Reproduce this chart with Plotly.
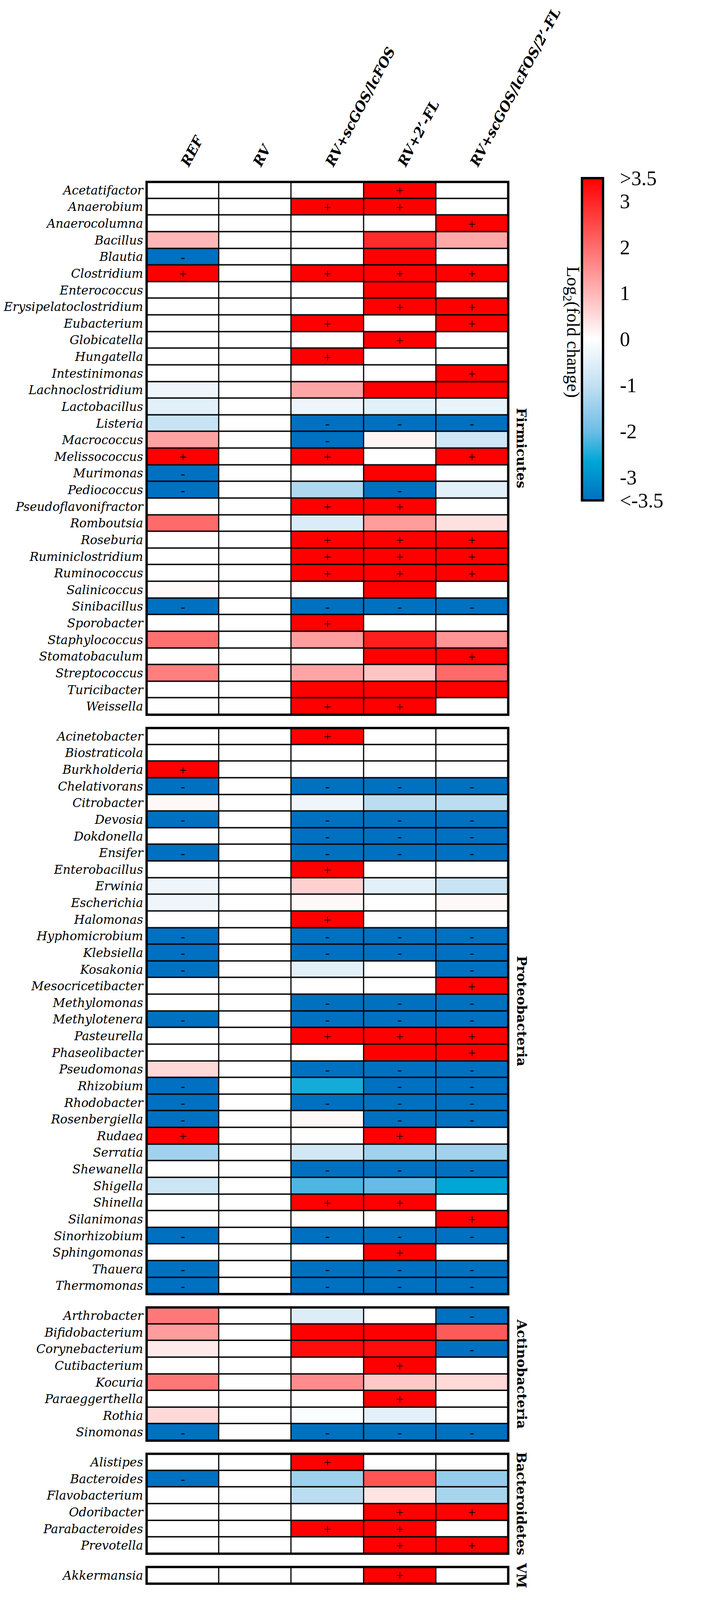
import plotly.graph_objects as go
from plotly.subplots import make_subplots

columns = ["REF", "RV", "RV+scGOS/lcFOS", "RV+2’-FL", "RV+scGOS/lcFOS/2’-FL"]
groups = ["Firmicutes", "Proteobacteria", "Actinobacteria", "Bacteroidetes", "VM"]

# log2 fold change per genus (columns as above), '.' = no significance mark
firmicutes = ["Acetatifactor", "Anaerobium", "Anaerocolumna", "Bacillus", "Blautia",
              "Clostridium", "Enterococcus", "Erysipelatoclostridium", "Eubacterium",
              "Globicatella", "Hungatella", "Intestinimonas", "Lachnoclostridium",
              "Lactobacillus", "Listeria", "Macrococcus", "Melissococcus", "Murimonas",
              "Pediococcus", "Pseudoflavonifractor", "Romboutsia", "Roseburia",
              "Ruminiclostridium", "Ruminococcus", "Salinicoccus", "Sinibacillus",
              "Sporobacter", "Staphylococcus", "Stomatobaculum", "Streptococcus",
              "Turicibacter", "Weissella"]
firmicutes_values = [
    [0, 0, 0, 3.5, 0], [0, 0, 3.5, 3.5, 0], [0, 0, 0, 0, 3.5], [1.0, 0, 0, 2.9, 1.2],
    [-3.5, 0, 0, 3.5, 0], [3.5, 0, 3.5, 3.5, 3.5], [0, 0, 0, 3.5, 0], [0, 0, 0, 3.5, 3.5],
    [0, 0, 3.5, 0, 3.5], [0, 0, 0, 3.5, 0], [0, 0, 3.5, 0, 0], [0, 0, 0, 0, 3.5],
    [-0.28, 0, 1.24, 3.5, 3.5], [-0.5, 0, -0.28, -0.5, -0.38], [-0.9, 0, -3.5, -3.5, -3.5],
    [1.28, 0, -3.5, 0.15, -0.8], [3.5, 0, 3.5, 0, 3.5], [-3.5, 0, 0, 3.5, 0],
    [-3.5, 0, -1.24, -3.5, -0.5], [0, 0, 3.5, 3.5, 0], [2.05, 0, -0.6, 1.36, 0.42],
    [0, 0, 3.5, 3.5, 3.5], [0, 0, 3.5, 3.5, 3.5], [0, 0, 3.5, 3.5, 3.5],
    [0.07, 0, 0, 3.5, 0], [-3.5, 0, -3.5, -3.5, -3.5], [0, 0, 3.5, 0, 0],
    [1.96, 0, 1.33, 3.09, 1.47], [0, 0, 0, 3.5, 3.5], [1.77, 0, 1.25, 0.81, 2.05],
    [0, 0, 3.5, 3.5, 3.5], [0, 0, 3.5, 3.5, 0]]
firmicutes_signs = ["...+.", "..++.", "....+", ".....", "-....", "+.+++", ".....", "...++",
                    "..+.+", "...+.", "..+..", "....+", ".....", ".....", "..---", "..-..",
                    "+.+.+", "-....", "-..-.", "..++.", ".....", "..+++", "..+++", "..+++",
                    ".....", "-.---", "..+..", ".....", "....+", ".....", ".....", "..++."]

proteobacteria = ["Acinetobacter", "Biostraticola", "Burkholderia", "Chelativorans",
                  "Citrobacter", "Devosia", "Dokdonella", "Ensifer", "Enterobacillus",
                  "Erwinia", "Escherichia", "Halomonas", "Hyphomicrobium", "Klebsiella",
                  "Kosakonia", "Mesocricetibacter", "Methylomonas", "Methylotenera",
                  "Pasteurella", "Phaseolibacter", "Pseudomonas", "Rhizobium", "Rhodobacter",
                  "Rosenbergiella", "Rudaea", "Serratia", "Shewanella", "Shigella", "Shinella",
                  "Silanimonas", "Sinorhizobium", "Sphingomonas", "Thauera", "Thermomonas"]
proteobacteria_values = [
    [0, 0, 3.5, 0, 0], [0, 0, 0, 0, 0], [3.5, 0, 0, 0, 0], [-3.5, 0, -3.5, -3.5, -3.5],
    [0.1, 0, -0.28, -1.08, -1.08], [-3.5, 0, -3.5, -3.5, -3.5], [0, 0, -3.5, -3.5, -3.5],
    [-3.5, 0, -3.5, -3.5, -3.5], [0, 0, 3.5, 0, 0], [-0.28, 0, 0.65, -0.5, -0.9],
    [-0.28, 0, 0.1, 0, 0.1], [0, 0, 3.5, 0, 0], [-3.5, 0, -3.5, -3.5, -3.5],
    [-3.5, 0, -3.5, -3.5, -3.5], [-3.5, 0, -0.47, 0, -3.5], [0, 0, 0, 0, 3.5],
    [0, 0, -3.5, -3.5, -3.5], [-3.5, 0, -3.5, -3.5, -3.5], [0, 0, 3.5, 3.5, 3.5],
    [0, 0, 0, 3.5, 3.5], [0.54, 0, -3.5, -3.5, -3.5], [-3.5, 0, -2.53, -3.5, -3.5],
    [-3.5, 0, -3.5, -3.5, -3.5], [-3.5, 0, 0.1, -3.5, -3.5], [3.5, 0, 0, 3.5, 0],
    [-1.4, 0, -0.74, -1.4, -1.4], [0, 0, -3.5, -3.5, -3.5], [-0.84, 0, -2.19, -2.04, -2.66],
    [0, 0, 3.5, 3.5, 0], [0, 0, 0, 0, 3.5], [-3.5, 0, -3.5, -3.5, -3.5], [0, 0, 0, 3.5, 0],
    [-3.5, 0, -3.5, -3.5, -3.5], [-3.5, 0, -3.5, -3.5, -3.5]]
proteobacteria_signs = ["..+..", ".....", "+....", "-.---", ".....", "-.---", "..---",
                        "-.---", "..+..", ".....", ".....", "..+..", "-.---", "-.---",
                        "-...-", "....+", "..---", "-.---", "..+++", "....+", "..---",
                        "-..--", "-.---", "-..--", "+..+.", ".....", "..---", ".....",
                        "..++.", "....+", "-.---", "...+.", "-.---", "-.---"]

actinobacteria = ["Arthrobacter", "Bifidobacterium", "Corynebacterium", "Cutibacterium",
                  "Kocuria", "Paraeggerthella", "Rothia", "Sinomonas"]
actinobacteria_values = [
    [1.85, 0, -0.57, 0, -3.5], [1.36, 0, 3.5, 3.5, 2.26], [0.3, 0, 3.33, 3.33, -3.5],
    [0, 0, 0, 3.5, 0], [1.85, 0, 1.58, 0.75, 0.54], [0, 0, 0, 3.5, 0],
    [0.54, 0, -0.08, -0.47, 0.02], [-3.5, 0, -3.5, -3.5, -3.5]]
actinobacteria_signs = ["....-", ".....", "....-", "...+.", ".....", "...+.", ".....", "-.---"]

bacteroidetes = ["Alistipes", "Bacteroides", "Flavobacterium", "Odoribacter",
                 "Parabacteroides", "Prevotella"]
bacteroidetes_values = [
    [0, 0, 3.5, 0, 0], [-3.5, 0, -1.43, 2.33, -1.54], [0, 0, -1.08, 0.37, -1.31],
    [0, 0, 0, 3.5, 3.5], [0, 0, 3.5, 3.5, 0], [0, 0, 0, 3.5, 3.5]]
bacteroidetes_signs = ["..+..", "-....", ".....", "...++", "..++.", "...++"]

vm = ["Akkermansia"]
vm_values = [[0, 0, 0, 3.5, 0]]
vm_signs = ["...+."]

colorbar_ticks = [-3.5, -3, -2, -1, 0, 1, 2, 3, 3.5]
colorbar_labels = ["<-3.5", "-3", "-2", "-1", "0", "1", "2", "3", ">3.5"]

blocks = [
    (firmicutes, firmicutes_values, firmicutes_signs),
    (proteobacteria, proteobacteria_values, proteobacteria_signs),
    (actinobacteria, actinobacteria_values, actinobacteria_signs),
    (bacteroidetes, bacteroidetes_values, bacteroidetes_signs),
    (vm, vm_values, vm_signs),
]

# layout measured on a 1846 x 4805 frame; the page itself is drawn a bit shorter
# so the whole chart fits in the captured area
W, H = 1846, 4805
FIG_H = 4080
TOP, PITCH, GAP = 539, 50.2, 40
X0, X1 = 398, 1401
SERIF = "Liberation Serif"
WIDE = "DejaVu Serif"

fig = make_subplots(rows=5, cols=1)

start = TOP
for i, (names, vals, signs) in enumerate(blocks):
    r = i + 1
    text = [["" if c == "." else c for c in s] for s in signs]
    fig.add_trace(go.Heatmap(
        z=vals, x=columns, y=names, text=text, texttemplate="%{text}",
        textfont=dict(size=34, color="black", family=SERIF),
        coloraxis="coloraxis", xgap=3, ygap=3.5, hoverinfo="skip"), row=r, col=1)

    bottom = start + len(names) * PITCH
    ax = "" if r == 1 else str(r)
    fig.update_layout({
        f"xaxis{ax}": dict(domain=[X0 / W, X1 / W], showgrid=False, zeroline=False,
                           ticks="", showticklabels=(r == 1), side="top",
                           tickangle=-62, ticklabelstandoff=20,
                           tickfont=dict(family=WIDE, size=35, color="black",
                                         weight="bold", style="italic")),
        f"yaxis{ax}": dict(domain=[1 - bottom / H, 1 - start / H], autorange="reversed",
                           showgrid=False, zeroline=False, ticks="", ticklabelstandoff=8,
                           tickfont=dict(family=WIDE, size=31, color="black",
                                         style="italic")),
    })
    # thick frame round each block
    fig.add_shape(type="rect", xref=f"x{ax} domain", yref=f"y{ax} domain",
                  x0=0, x1=1, y0=0, y1=1, line=dict(color="black", width=6))
    fig.add_annotation(text=groups[i], x=1438 / W, y=1 - (start + bottom) / 2 / H,
                       xref="paper", yref="paper", xanchor="center", yanchor="middle",
                       showarrow=False, textangle=90,
                       font=dict(family=WIDE, size=34, color="black", weight="bold"))
    start = bottom + GAP

fig.add_annotation(text="Log<sub>2</sub>(fold change)", x=1577 / W, y=1 - 992 / H,
                   xref="paper", yref="paper", xanchor="center", yanchor="middle",
                   showarrow=False, textangle=90,
                   font=dict(family=SERIF, size=46, color="black"))

fig.update_layout(
    width=W, height=FIG_H,
    margin=dict(l=0, r=0, t=0, b=0),
    paper_bgcolor="white", plot_bgcolor="black",
    showlegend=False,
    coloraxis=dict(
        cmin=-3.5, cmax=3.5,
        colorscale=[[0.0, "#0070C0"], [0.12, "#00A6D6"], [0.2143, "#6DBDE5"],
                    [0.3571, "#C2E0F2"], [0.5, "#FFFFFF"], [1.0, "#FF0000"]],
        colorbar=dict(
            x=1606 / W, xanchor="left", y=1 - 1013 / H, yanchor="middle",
            len=972 / H, lenmode="fraction", thickness=54, thicknessmode="pixels",
            xpad=0, ypad=0, outlinewidth=6, outlinecolor="black",
            tickvals=colorbar_ticks, ticktext=colorbar_labels,
            ticks="outside", ticklen=30, tickcolor="rgba(0,0,0,0)",
            tickfont=dict(family=SERIF, size=52, color="black"),
        ),
    ),
)

fig.write_html("out.html")
